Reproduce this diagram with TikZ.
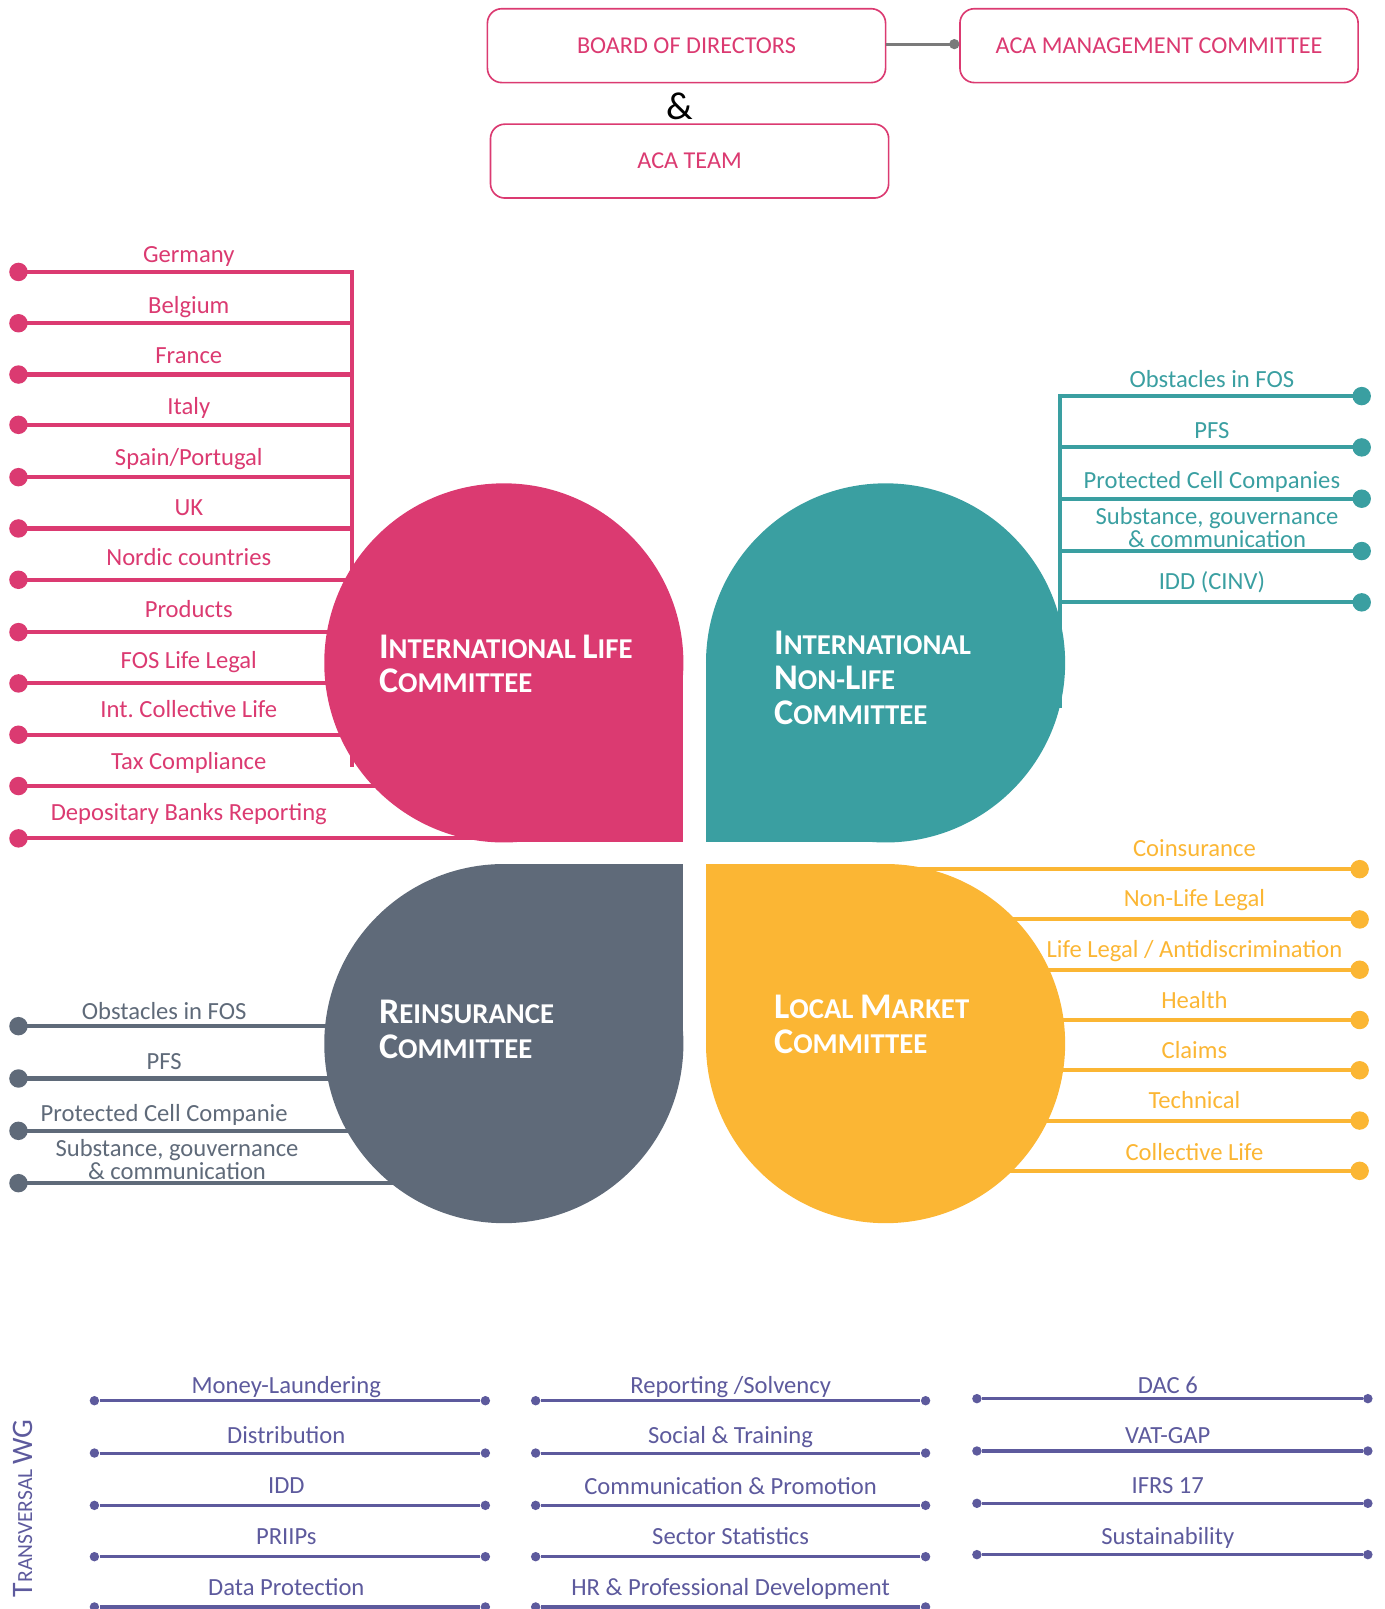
\documentclass[tikz,border=0pt]{standalone}
\usepackage{fontspec}
\setmainfont{Carlito}
\usetikzlibrary{arrows.meta}
\definecolor{acaPink}{HTML}{DB3A71}
\definecolor{acaTeal}{HTML}{3A9FA1}
\definecolor{acaGrey}{HTML}{5F6A79}
\definecolor{acaYellow}{HTML}{FBB634}
\definecolor{acaPurple}{HTML}{5D5A9D}
\definecolor{linkGrey}{HTML}{7A7A7A}
\newcommand\TitSC[2]{{\fontsize{17.6}{17}\selectfont #1}{\fontsize{14}{17}\selectfont #2}}
\frenchspacing
\begin{document}
\begin{tikzpicture}[x=0.5pt,y=-0.5pt,
  dot/.style={circle,fill=#1,inner sep=0pt,minimum size=9pt},
  sdot/.style={circle,fill=#1,inner sep=0pt,minimum size=4.6pt},
  lbl/.style={text=#1,anchor=base,inner sep=0pt,font=\fontsize{12}{12}\selectfont},
  lbltwo/.style={text=#1,align=center,inner sep=0pt,font=\fontsize{12}{10}\selectfont},
  link/.style={draw=#1,line width=2pt},
  wlink/.style={draw=#1,line width=1.5pt},
  topbox/.style={draw=acaPink,line width=0.8pt,rounded corners=7pt,minimum width=194pt,minimum height=36pt,text=acaPink,font=\fontsize{11.8}{12}\selectfont,inner sep=0pt},
  comtitle/.style={text=white,anchor=west,align=left,inner sep=0pt,font=\bfseries\fontsize{14}{17}\selectfont}]
\useasboundingbox (0,0) rectangle (1349,1568);

% ---------- top boxes ----------
\node[topbox] (board) at (669,44.5) {BOARD OF DIRECTORS};
\node[topbox] (mgmt) at (1129.5,44.5) {ACA MANAGEMENT COMMITTEE};
\node[topbox] (team) at (672,157) {ACA TEAM};
\node[font=\fontsize{19}{19}\selectfont,inner sep=0pt] (amp) at (662,104) {\&};
\node[circle,fill=linkGrey,inner sep=0pt,minimum size=5pt] (mdot) at (930,43) {};
\draw[draw=linkGrey,line width=1.5pt] (mdot.center) -- (mdot.center -| board.east);

% ---------- pink (international life) ----------
\foreach \i/\ly/\ty/\xe/\t in {
 1/265/247/343/Germany,
 2/315/297/343/Belgium,
 3/365/346/343/France,
 4/414/395/343/Italy,
 5/465/445/343/{Spain/Portugal},
 6/515/494/343/UK,
 7/565/543/343/Nordic countries,
 8/616/593/420/Products,
 9/666/643/420/FOS Life Legal,
 10/716/691/420/Int. Collective Life,
 11/766/741/420/Tax Compliance,
 12/817/791/491/Depositary Banks Reporting}{
 \node[dot=acaPink] (pd\i) at (18,\ly) {};
 \node[lbl=acaPink] (pl\i) at (184,\ty+8.5) {\t};
 \coordinate (pe\i) at (\xe,\ly);
 \draw[link=acaPink] (pd\i.center) -- (pe\i);
}
\coordinate (pbar) at (343,745);
\draw[link=acaPink,line cap=rect] (pe1) -- (pbar);

% ---------- teal (international non-life) ----------
\foreach \i/\ly/\ty/\t in {
 1/386/369/Obstacles in FOS,
 2/436/419/PFS,
 3/486/468/Protected Cell Companies,
 5/587/566/IDD (CINV)}{
 \node[dot=acaTeal] (td\i) at (1327,\ly) {};
 \node[lbl=acaTeal] (tl\i) at (1181,\ty+8.5) {\t};
 \coordinate (te\i) at (1033,\ly);
 \draw[link=acaTeal] (td\i.center) -- (te\i);
}
\node[dot=acaTeal] (td4) at (1327,537) {};
\node[lbltwo=acaTeal] (tl4) at (1186,514) {Substance, gouvernance\\\& communication};
\coordinate (te4) at (1033,537);
\draw[link=acaTeal] (td4.center) -- (te4);
\coordinate (tbar) at (1033,688);
\draw[link=acaTeal,line cap=rect] (te1) -- (tbar);

% ---------- grey (reinsurance) ----------
\foreach \i/\ly/\ty/\t in {
 1/1000/985/Obstacles in FOS,
 2/1051/1034/PFS,
 3/1102/1084/Protected Cell Companie}{
 \node[dot=acaGrey] (gd\i) at (18,\ly) {};
 \node[lbl=acaGrey] (gl\i) at (160,\ty+8.5) {\t};
 \coordinate (ge\i) at (491,\ly);
 \draw[link=acaGrey] (gd\i.center) -- (ge\i);
}
\node[dot=acaGrey] (gd4) at (18,1153) {};
\node[lbltwo=acaGrey] (gl4) at (172.5,1130) {Substance, gouvernance\\\& communication};
\coordinate (ge4) at (491,1153);
\draw[link=acaGrey] (gd4.center) -- (ge4);

% ---------- yellow (local market) ----------
\foreach \i/\ly/\ty/\t in {
 1/847/826/Coinsurance,
 2/896/875/Non-Life Legal,
 3/945/925/{Life Legal / Antidiscrimination},
 4/994/974/Health,
 5/1043/1023/Claims,
 6/1092/1072/Technical,
 7/1141/1122/Collective Life}{
 \node[dot=acaYellow] (yd\i) at (1325,\ly) {};
 \node[lbl=acaYellow] (yl\i) at (1164,\ty+8.5) {\t};
 \coordinate (ye\i) at (863,\ly);
 \draw[link=acaYellow] (yd\i.center) -- (ye\i);
}

% ---------- leaf shapes ----------
\fill[acaPink] (491,646) circle[radius=175];
\fill[acaPink] (491,646) rectangle (666,821);
\fill[acaTeal] (863,646) circle[radius=175];
\fill[acaTeal] (863,646) rectangle (688,821);
\fill[acaGrey] (491,1017) circle[radius=175];
\fill[acaGrey] (491,1017) rectangle (666,842);
\fill[acaYellow] (863,1017) circle[radius=175];
\fill[acaYellow] (863,1017) rectangle (688,842);

\node[comtitle] (cLife) at (369,647) {\TitSC{I}{NTERNATIONAL} \TitSC{L}{IFE}\\\TitSC{C}{OMMITTEE}};
\node[comtitle] (cNonLife) at (754,661) {\TitSC{I}{NTERNATIONAL}\\\TitSC{N}{ON-}\TitSC{L}{IFE}\\\TitSC{C}{OMMITTEE}};
\node[comtitle] (cRe) at (369,1003) {\TitSC{R}{EINSURANCE}\\\TitSC{C}{OMMITTEE}};
\node[comtitle] (cLocal) at (754,998.5) {\TitSC{L}{OCAL} \TitSC{M}{ARKET}\\\TitSC{C}{OMMITTEE}};

% ---------- transversal WG ----------
\node[rotate=90,text=acaPurple,inner sep=0pt] (twg) at (22,1470)
 {{\fontsize{14.5}{15}\selectfont T}{\fontsize{10.5}{15}\selectfont RANSVERSAL} {\fontsize{14.5}{15}\selectfont WG}};

\foreach \i/\ly/\ty/\t in {
 1/1365/1349/Money-Laundering,
 2/1416/1398/Distribution,
 3/1467/1447/IDD,
 4/1517/1497/PRIIPs,
 5/1566/1546/Data Protection}{
 \node[sdot=acaPurple] (aL\i) at (92,\ly) {};
 \node[sdot=acaPurple] (aR\i) at (473,\ly) {};
 \node[lbl=acaPurple] (aT\i) at (279,\ty+8.5) {\t};
 \draw[wlink=acaPurple] (aL\i) -- (aR\i);
}
\foreach \i/\ly/\ty/\t in {
 1/1365/1349/{Reporting /Solvency},
 2/1416/1398/Social \& Training,
 3/1467/1448/Communication \& Promotion,
 4/1517/1497/Sector Statistics,
 5/1566/1546/HR \& Professional Development}{
 \node[sdot=acaPurple] (bL\i) at (522,\ly) {};
 \node[sdot=acaPurple] (bR\i) at (902,\ly) {};
 \node[lbl=acaPurple] (bT\i) at (712,\ty+8.5) {\t};
 \draw[wlink=acaPurple] (bL\i) -- (bR\i);
}
\foreach \i/\ly/\ty/\t in {
 1/1363/1349/DAC 6,
 2/1414/1398/VAT-GAP,
 3/1465/1447/IFRS 17,
 4/1515/1497/Sustainability}{
 \node[sdot=acaPurple] (cL\i) at (952,\ly) {};
 \node[sdot=acaPurple] (cR\i) at (1333,\ly) {};
 \node[lbl=acaPurple] (cT\i) at (1138,\ty+8.5) {\t};
 \draw[wlink=acaPurple] (cL\i) -- (cR\i);
}
\end{tikzpicture}
\end{document}
